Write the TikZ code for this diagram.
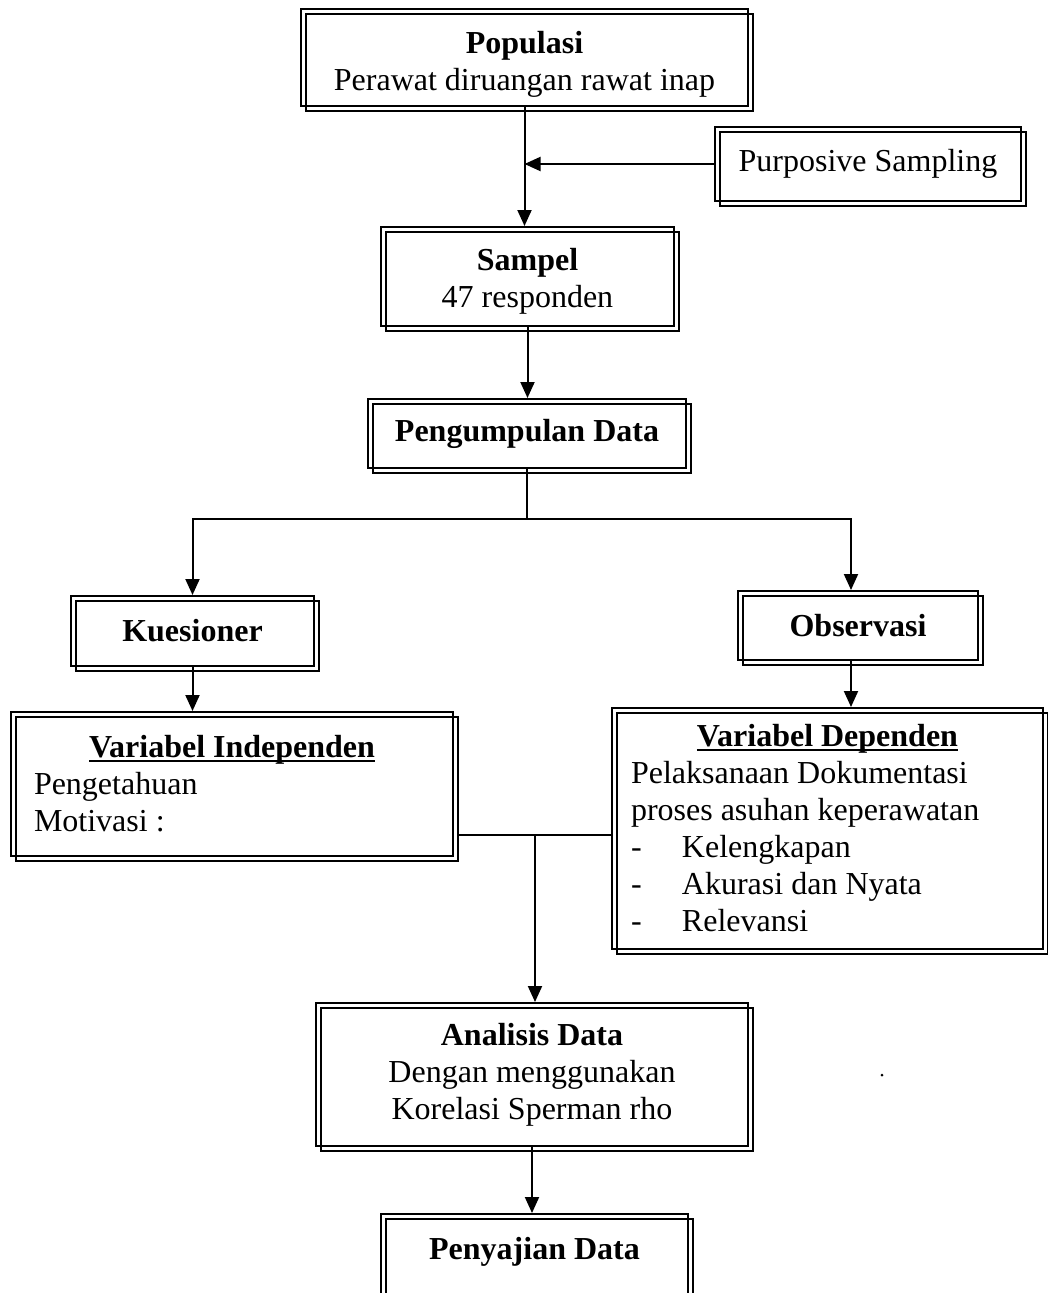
\documentclass[tikz,border=0pt]{standalone}
\usepackage{fontspec}
\setmainfont{Liberation Serif}
\usetikzlibrary{arrows.meta}
\newcommand\myul[1]{\setbox0\hbox{#1}\rlap{\rule[-4.5pt]{\wd0}{2pt}}\box0}
\begin{document}
\begin{tikzpicture}[x=1pt,y=-1pt,
  font=\fontsize{32}{37}\selectfont,
  box/.style={draw, line width=2pt, inner sep=0pt, anchor=north west, align=center,
    postaction={draw, line width=1.4pt, transform canvas={xshift=5pt,yshift=-5pt}}},
  line/.style={line width=2pt},
  arr/.style={line width=2pt, -{Triangle[width=14pt,length=16pt]}}]
\useasboundingbox (0,0) rectangle (1047,1293);

\node[box, minimum width=447pt, minimum height=97pt] (pop) at (300,8)
  {\rule{0pt}{35pt}\textbf{Populasi}\\Perawat diruangan rawat inap};
\node[box, minimum width=306pt, minimum height=74pt] (purp) at (714,126)
  {Purposive Sampling};
\node[box, minimum width=293pt, minimum height=99pt] (sam) at (380,226)
  {\rule{0pt}{31pt}\textbf{Sampel}\\47 responden};
\node[box, minimum width=318pt, minimum height=69pt] (peng) at (367,398)
  {\textbf{Pengumpulan Data}};
\node[box, minimum width=243pt, minimum height=70pt] (kues) at (70,595)
  {\textbf{Kuesioner}};
\node[box, minimum width=240pt, minimum height=69pt] (obs) at (737,590)
  {\textbf{Observasi}};
\node[box, align=flush left, inner xsep=23pt, text width=396pt, minimum height=144pt] (vi) at (10,711)
  {\makebox[396pt][c]{\myul{\textbf{Variabel Independen}}}\\Pengetahuan\\Motivasi :};
\node[box, align=flush left, inner xsep=19pt, text width=393pt, minimum height=241pt] (vd) at (611,707)
  {\makebox[393pt][c]{\myul{\textbf{Variabel Dependen}}}\\Pelaksanaan Dokumentasi\\proses asuhan keperawatan\\
   \makebox[51pt][l]{-}Kelengkapan\\\makebox[51pt][l]{-}Akurasi dan Nyata\\\makebox[51pt][l]{-}Relevansi};
\node[box, minimum width=432pt, minimum height=143pt] (an) at (315,1002)
  {\textbf{Analisis Data}\\Dengan menggunakan\\Korelasi Sperman rho};
\node[box, minimum width=307pt, minimum height=100pt, text depth=32pt] (pen) at (380,1213)
  {\textbf{Penyajian Data}};

\draw[arr] (pop.south) -- (pop.south |- sam.north);
\draw[arr] (purp.west) -- (purp.west -| pop.south);
\draw[arr] (sam.south) -- (sam.south |- peng.north);
\draw[line] (peng.south) -- ++(0,50) coordinate (j1);
\draw[arr] (j1) -| (kues.north);
\draw[arr] (j1) -| ([xshift=-7pt]obs.north);
\draw[arr] (kues.south) -- (kues.south |- vi.north);
\draw[arr] ([xshift=-7pt]obs.south) -- ([xshift=-7pt]obs.south |- vd.north);
\draw[line] ([shift={(5,-22)}]vi.south east) coordinate (l1) -- (l1 -| vd.west) coordinate (l2);
\path (l1) -- (l2) coordinate[midway] (j2);
\draw[arr] (j2) -- (j2 |- an.north);
\draw[arr] (an.south) -- (an.south |- pen.north);
\fill (882,1075) circle (1.5);
\end{tikzpicture}
\end{document}
